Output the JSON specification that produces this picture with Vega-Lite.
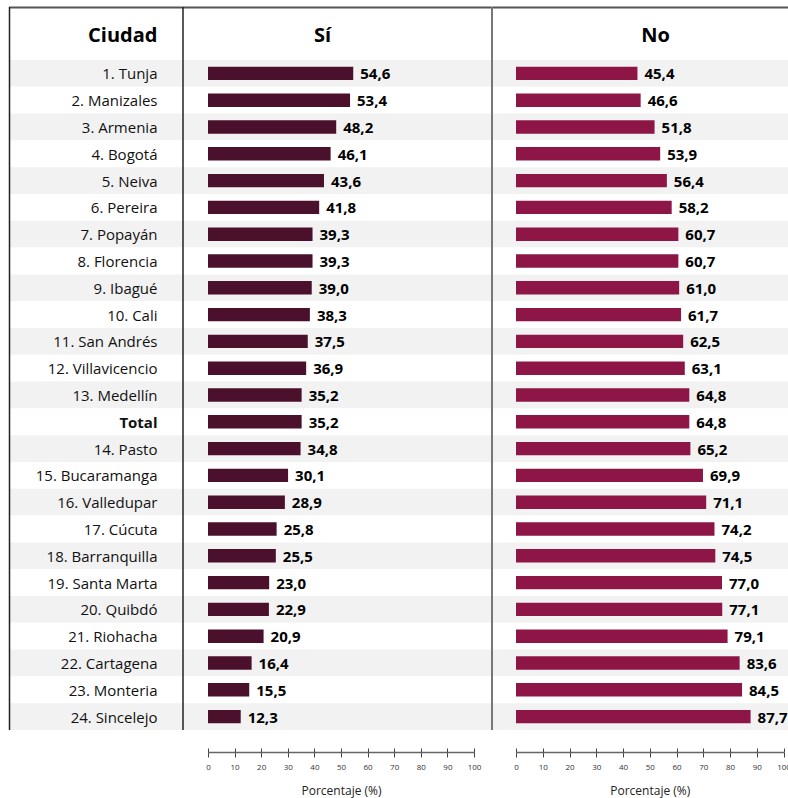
{
  "$schema": "https://vega.github.io/schema/vega-lite/v6.json",
  "width": 779,
  "height": 723,
  "autosize": {"type": "none"},
  "padding": {"left": 9, "top": 7, "right": 0, "bottom": 68},
  "background": "white",
  "config": {
    "view": {"stroke": null},
    "font": "Open Sans",
    "locale": {"number": {"decimal": ",", "thousands": ".", "grouping": [3], "currency": ["", ""]}}
  },
  "datasets": {
    "rows": [
      {"ciudad": "1. Tunja", "si": 54.6, "no": 45.4},
      {"ciudad": "2. Manizales", "si": 53.4, "no": 46.6},
      {"ciudad": "3. Armenia", "si": 48.2, "no": 51.8},
      {"ciudad": "4. Bogotá", "si": 46.1, "no": 53.9},
      {"ciudad": "5. Neiva", "si": 43.6, "no": 56.4},
      {"ciudad": "6. Pereira", "si": 41.8, "no": 58.2},
      {"ciudad": "7. Popayán", "si": 39.3, "no": 60.7},
      {"ciudad": "8. Florencia", "si": 39.3, "no": 60.7},
      {"ciudad": "9. Ibagué", "si": 39.0, "no": 61.0},
      {"ciudad": "10. Cali", "si": 38.3, "no": 61.7},
      {"ciudad": "11. San Andrés", "si": 37.5, "no": 62.5},
      {"ciudad": "12. Villavicencio", "si": 36.9, "no": 63.1},
      {"ciudad": "13. Medellín", "si": 35.2, "no": 64.8},
      {"ciudad": "Total", "si": 35.2, "no": 64.8},
      {"ciudad": "14. Pasto", "si": 34.8, "no": 65.2},
      {"ciudad": "15. Bucaramanga", "si": 30.1, "no": 69.9},
      {"ciudad": "16. Valledupar", "si": 28.9, "no": 71.1},
      {"ciudad": "17. Cúcuta", "si": 25.8, "no": 74.2},
      {"ciudad": "18. Barranquilla", "si": 25.5, "no": 74.5},
      {"ciudad": "19. Santa Marta", "si": 23.0, "no": 77.0},
      {"ciudad": "20. Quibdó", "si": 22.9, "no": 77.1},
      {"ciudad": "21. Riohacha", "si": 20.9, "no": 79.1},
      {"ciudad": "22. Cartagena", "si": 16.4, "no": 83.6},
      {"ciudad": "23. Monteria", "si": 15.5, "no": 84.5},
      {"ciudad": "24.  Sincelejo", "si": 12.3, "no": 87.7}
    ]
  },
  "data": {"name": "rows"},
  "layer": [
    {
      "transform": [{"window": [{"op": "row_number", "as": "rn"}]}],
      "mark": {"type": "rect"},
      "encoding": {
        "y": {
          "field": "ciudad", "type": "nominal", "sort": null,
          "scale": {
            "domain": ["1. Tunja", "2. Manizales", "3. Armenia", "4. Bogotá", "5. Neiva", "6. Pereira", "7. Popayán", "8. Florencia", "9. Ibagué", "10. Cali", "11. San Andrés", "12. Villavicencio", "13. Medellín", "Total", "14. Pasto", "15. Bucaramanga", "16. Valledupar", "17. Cúcuta", "18. Barranquilla", "19. Santa Marta", "20. Quibdó", "21. Riohacha", "22. Cartagena", "23. Monteria", "24.  Sincelejo"],
            "range": [53, 723], "paddingInner": 0, "paddingOuter": 0
          },
          "axis": {
            "orient": "left", "offset": -148, "domain": false, "ticks": false,
            "labelPadding": 0, "labelFontSize": 15, "labelColor": "#111111", "labelLimit": 0, "labelOffset": 1,
            "labelFontWeight": {"condition": {"test": "datum.value === 'Total'", "value": "bold"}, "value": "normal"},
            "title": "Ciudad", "titleAngle": 0, "titleAlign": "right", "titleBaseline": "middle",
            "titleX": 0, "titleY": 28, "titleFontSize": 20, "titleFontWeight": "bold", "titleColor": "#000000"
          }
        },
        "fill": {"condition": {"test": "datum.rn % 2 === 1", "value": "#f2f2f2"}, "value": "#ffffff"}
      }
    },
    {
      "data": {"values": [{}]},
      "mark": {"type": "rule", "color": "#555555", "strokeWidth": 2},
      "encoding": {"x": {"value": 0}, "x2": {"value": "width"}, "y": {"value": 0.5}}
    },
    {
      "data": {"values": [{}]},
      "mark": {"type": "rule", "color": "#222222", "strokeWidth": 1.5},
      "encoding": {"x": {"value": 0.5}, "y": {"value": 0}, "y2": {"value": "height"}}
    },
    {
      "data": {"values": [{}]},
      "mark": {"type": "rule", "color": "#222222", "strokeWidth": 1.5},
      "encoding": {"x": {"value": 174}, "y": {"value": 0}, "y2": {"value": "height"}}
    },
    {
      "data": {"values": [{}]},
      "mark": {"type": "rule", "color": "#777777", "strokeWidth": 2},
      "encoding": {"x": {"value": 483}, "y": {"value": 0}, "y2": {"value": "height"}}
    },
    {
      "layer": [
        {
          "mark": {"type": "bar", "color": "#4B102C", "height": {"band": 0.5}},
          "encoding": {
            "y": {"field": "ciudad", "type": "nominal", "sort": null},
            "x": {
              "field": "si", "type": "quantitative",
              "scale": {"domain": [0, 100], "range": [199, 465], "nice": false, "zero": true},
              "axis": {
                "orient": "bottom", "offset": 22, "values": [0, 10, 20, 30, 40, 50, 60, 70, 80, 90, 100],
                "grid": false, "domainColor": "#666666", "domainWidth": 1.5, "tickColor": "#444444", "tickSize": 5,
                "labelFontSize": 8, "labelColor": "#333333", "labelPadding": 6, "labelFlush": false,
                "title": "Porcentaje (%)", "titleFontSize": 12, "titleFontWeight": "normal", "titleColor": "#222222", "titlePadding": 14
              }
            }
          }
        },
        {
          "mark": {"type": "text", "align": "left", "baseline": "middle", "dx": 7, "dy": 1, "fontSize": 15, "fontWeight": "bold", "color": "#000000"},
          "encoding": {
            "y": {"field": "ciudad", "type": "nominal", "sort": null},
            "x": {
              "field": "si", "type": "quantitative",
              "scale": {"domain": [0, 100], "range": [199, 465], "nice": false, "zero": true},
              "axis": {
                "orient": "bottom", "offset": 18, "values": [0, 10, 20, 30, 40, 50, 60, 70, 80, 90, 100],
                "grid": false, "domain": false, "labels": false, "tickColor": "#444444", "tickSize": 4,
                "title": "Sí", "titleX": 313, "titleY": -713, "titleAlign": "center", "titleBaseline": "middle",
                "titleFontSize": 20, "titleFontWeight": "bold", "titleColor": "#000000", "titleAngle": 0
              }
            },
            "text": {"field": "si", "type": "quantitative", "format": ".1f"}
          }
        }
      ],
      "resolve": {"axis": {"x": "independent"}}
    },
    {
      "layer": [
        {
          "mark": {"type": "bar", "color": "#8D1647", "height": {"band": 0.5}},
          "encoding": {
            "y": {"field": "ciudad", "type": "nominal", "sort": null},
            "x": {
              "field": "no", "type": "quantitative",
              "scale": {"domain": [0, 100], "range": [507, 774.5], "nice": false, "zero": true},
              "axis": {
                "orient": "bottom", "offset": 22, "values": [0, 10, 20, 30, 40, 50, 60, 70, 80, 90, 100],
                "grid": false, "domainColor": "#666666", "domainWidth": 1.5, "tickColor": "#444444", "tickSize": 5,
                "labelFontSize": 8, "labelColor": "#333333", "labelPadding": 6, "labelFlush": false,
                "title": "Porcentaje (%)", "titleFontSize": 12, "titleFontWeight": "normal", "titleColor": "#222222", "titlePadding": 14
              }
            }
          }
        },
        {
          "mark": {"type": "text", "align": "left", "baseline": "middle", "dx": 7, "dy": 1, "fontSize": 15, "fontWeight": "bold", "color": "#000000"},
          "encoding": {
            "y": {"field": "ciudad", "type": "nominal", "sort": null},
            "x": {
              "field": "no", "type": "quantitative",
              "scale": {"domain": [0, 100], "range": [507, 774.5], "nice": false, "zero": true},
              "axis": {
                "orient": "bottom", "offset": 18, "values": [0, 10, 20, 30, 40, 50, 60, 70, 80, 90, 100],
                "grid": false, "domain": false, "labels": false, "tickColor": "#444444", "tickSize": 4,
                "title": "No", "titleX": 646, "titleY": -713, "titleAlign": "center", "titleBaseline": "middle",
                "titleFontSize": 20, "titleFontWeight": "bold", "titleColor": "#000000", "titleAngle": 0
              }
            },
            "text": {"field": "no", "type": "quantitative", "format": ".1f"}
          }
        }
      ],
      "resolve": {"axis": {"x": "independent"}}
    }
  ],
  "resolve": {"scale": {"x": "independent"}}
}
